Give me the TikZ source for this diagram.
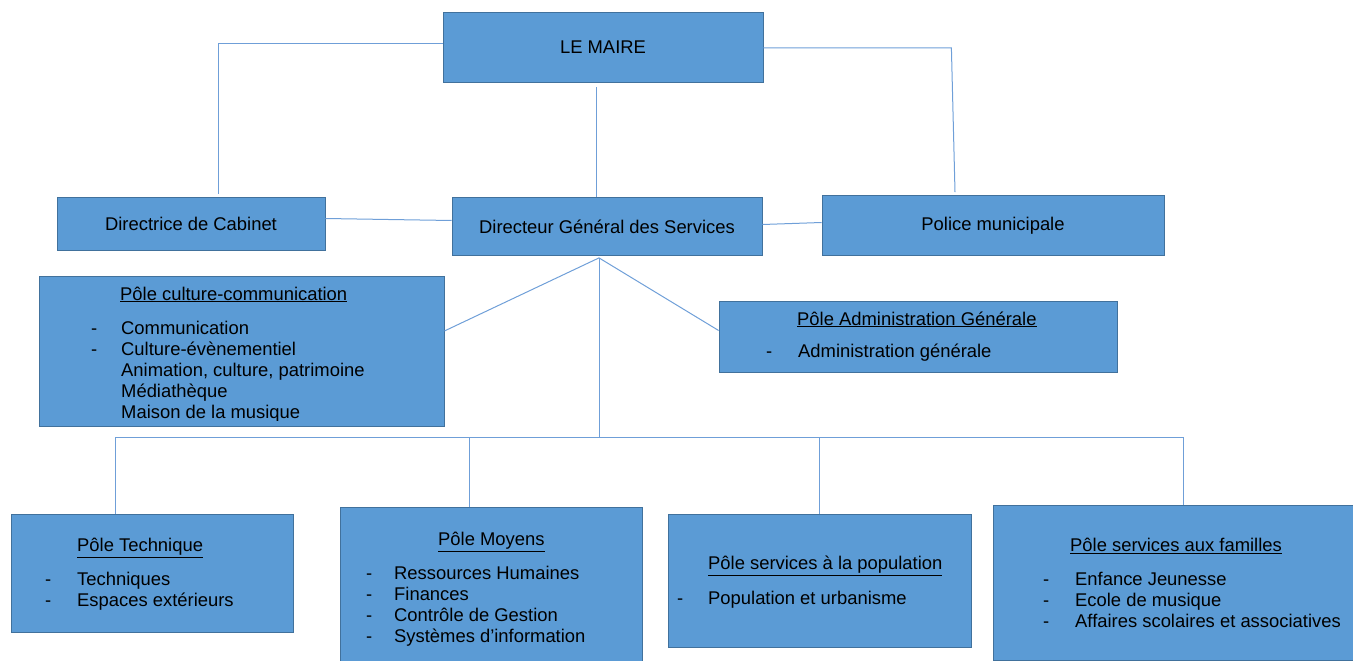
\documentclass[tikz,border=0pt]{standalone}
\usepackage{fontspec}
\setmainfont{Liberation Sans}
\usetikzlibrary{fit}
\definecolor{boxblue}{HTML}{5B9BD5}
\definecolor{boxedge}{HTML}{41719C}
\definecolor{linkblue}{HTML}{6F9FD8}
\begin{document}
\begin{tikzpicture}[x=1pt,y=-1pt,
  every node/.style={font=\fontsize{18.4}{21.2}\selectfont},
  box/.style={draw=boxedge, fill=boxblue, line width=0.8pt, inner sep=0pt},
  txt/.style={inner sep=0pt, anchor=base west},
  link/.style={draw=linkblue, line width=1pt}]
\useasboundingbox (0,0) rectangle (1353,661);
% Boxes
\node[box, minimum width=320pt, minimum height=70pt] (maire) at (603,47) {LE MAIRE};
\node[box, minimum width=268pt, minimum height=53pt] (cab) at (191,223.5) {Directrice de Cabinet};
\node[box, minimum width=310pt, minimum height=58pt] (dgs) at (607,226.5) {Directeur Général des Services};
\node[box, minimum width=342pt, minimum height=60pt] (pol) at (993,225.5) {Police municipale};
\node[box, fit={(39,276) (444,426)}] (cul) {};
\node[box, fit={(719,301) (1117,372)}] (adm) {};
\node[box, fit={(11,514) (293,632)}] (tec) {};
\node[box, fit={(340,507) (642,668)}] (moy) {};
\node[box, fit={(668,514) (971,647)}] (pop) {};
\node[box, fit={(993,505) (1362,660)}] (fam) {};
% Links
\draw[link] ([yshift=3pt]maire.west) -| ([xshift=27pt,yshift=3pt]cab.north);
\draw[link] ([yshift=-1pt]maire.east) -- ++(188,0) -- ([xshift=-38pt,yshift=3pt]pol.north);
\draw[link] ([xshift=-7pt,yshift=-5pt]maire.south) -- ([xshift=-11pt]dgs.north);
\draw[link] ([yshift=5pt]cab.east) -- ([yshift=6pt]dgs.west);
\draw[link] ([yshift=2pt]dgs.east) -- ([yshift=3pt]pol.west);
\coordinate (fork) at ([xshift=-8pt,yshift=-2pt]dgs.south);
\coordinate (bus) at (599,437);
\draw[link] (fork) -- ([yshift=20pt]cul.east);
\draw[link] (fork) -- ([yshift=6pt]adm.west);
\draw[link] (fork) -- (bus);
\draw[link] (115,0 |- bus) -- (1183,0 |- bus);
\foreach \p/\x in {tec/115, moy/469, pop/819, fam/1183}
  \draw[link] (\x,0 |- bus) -- (\x,0 |- \p.north);
% Pole culture-communication
\begin{scope}
\clip (39,276) rectangle (444,420);
\node[txt] (cul-h) at (120,300) {\underline{Pôle culture-communication}};
\foreach \i in {1,2}
  \node[txt] (cul-d\i) at (91,313+21*\i) {-};
\foreach \t [count=\i] in {Communication, Culture-évènementiel, {Animation, culture, patrimoine}, Médiathèque, Maison de la musique}
  \node[txt] (cul-\i) at (121,313+21*\i) {\t};
\end{scope}
% Pole administration
\node[txt] (adm-h) at (797,325) {\underline{Pôle Administration Générale}};
\node[txt] (adm-d1) at (766,357) {-};
\node[txt] (adm-1) at (798,357) {Administration générale};
% Pole technique
\node[txt] (tec-h) at (77,551.5) {\underline{Pôle Technique}};
\foreach \t [count=\i] in {Techniques, Espaces extérieurs} {
  \node[txt] (tec-d\i) at (45,564+21*\i) {-};
  \node[txt] (tec-\i) at (77,564+21*\i) {\t};
}
% Pole moyens
\node[txt] (moy-h) at (438,545.5) {\underline{Pôle Moyens}};
\foreach \t [count=\i] in {Ressources Humaines, Finances, Contrôle de Gestion, Systèmes d’information} {
  \node[txt] (moy-d\i) at (366,558+21*\i) {-};
  \node[txt] (moy-\i) at (394,558+21*\i) {\t};
}
% Pole services a la population
\node[txt] (pop-h) at (708,569.5) {\underline{Pôle services à la population}};
\node[txt] (pop-d1) at (677,604) {-};
\node[txt] (pop-1) at (708,604) {Population et urbanisme};
% Pole services aux familles
\node[txt] (fam-h) at (1070,551.5) {\underline{Pôle services aux familles}};
\foreach \t [count=\i] in {Enfance Jeunesse, Ecole de musique, Affaires scolaires et associatives} {
  \node[txt] (fam-d\i) at (1043,564+21*\i) {-};
  \node[txt] (fam-\i) at (1075,564+21*\i) {\t};
}
\end{tikzpicture}
\end{document}
